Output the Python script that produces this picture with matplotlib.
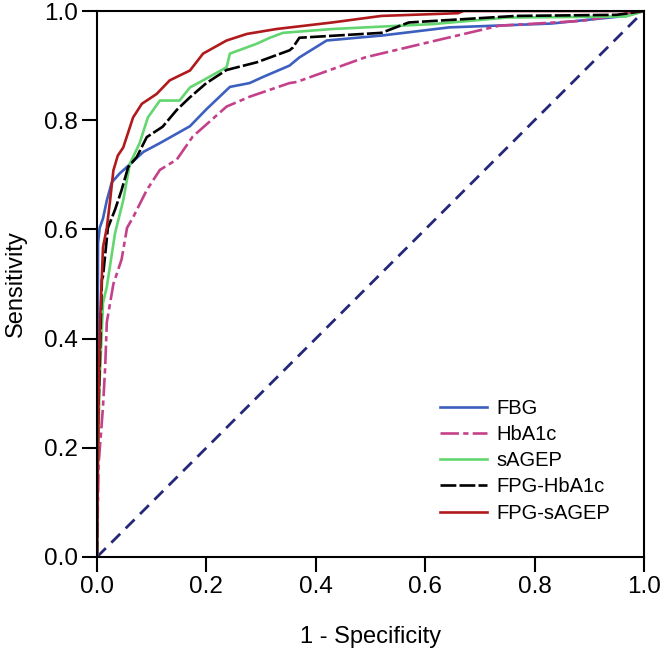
import matplotlib
matplotlib.use("Agg")
import matplotlib.pyplot as plt

plt.rcParams['font.family'] = ['Liberation Sans Narrow', 'Liberation Sans', 'DejaVu Sans']

# ROC curves (1 - specificity, sensitivity)
labels = ['FBG', 'HbA1c', 'sAGEP', 'FPG-HbA1c', 'FPG-sAGEP']

fbg_x = [0, 0.002, 0.005, 0.011, 0.018, 0.027, 0.042, 0.05, 0.085, 0.115, 0.17, 0.2, 0.243,
         0.279, 0.303, 0.352, 0.37, 0.42, 0.52, 0.644, 0.83, 0.967, 1.0]
fbg_y = [0, 0.575, 0.603, 0.62, 0.653, 0.686, 0.703, 0.71, 0.742, 0.758, 0.789, 0.82, 0.861,
         0.868, 0.879, 0.90, 0.915, 0.946, 0.955, 0.97, 0.977, 0.991, 1.0]

hba1c_x = [0, 0.003, 0.011, 0.015, 0.018, 0.03, 0.045, 0.055, 0.066, 0.091, 0.115, 0.146, 0.175,
           0.237, 0.279, 0.352, 0.365, 0.49, 0.62, 0.735, 0.887, 1.0]
hba1c_y = [0, 0.17, 0.275, 0.348, 0.43, 0.5, 0.545, 0.603, 0.622, 0.672, 0.709, 0.728, 0.77,
           0.825, 0.843, 0.868, 0.87, 0.915, 0.946, 0.973, 0.982, 1.0]

sagep_x = [0, 0.002, 0.005, 0.011, 0.018, 0.033, 0.048, 0.06, 0.078, 0.093, 0.115, 0.151, 0.17,
           0.194, 0.237, 0.243, 0.292, 0.316, 0.34, 0.43, 0.613, 0.75, 0.967, 1.0]
sagep_y = [0, 0.19, 0.325, 0.465, 0.495, 0.593, 0.653, 0.72, 0.758, 0.805, 0.836, 0.836, 0.86,
           0.873, 0.897, 0.922, 0.94, 0.951, 0.96, 0.967, 0.976, 0.988, 0.99, 1.0]

fpg_hba1c_x = [0, 0.002, 0.005, 0.009, 0.011, 0.02, 0.033, 0.045, 0.057, 0.073, 0.091, 0.12, 0.146,
               0.17, 0.2, 0.237, 0.292, 0.352, 0.358, 0.37, 0.52, 0.57, 0.766, 0.95, 1.0]
fpg_hba1c_y = [0, 0.25, 0.35, 0.508, 0.514, 0.603, 0.636, 0.672, 0.714, 0.733, 0.769, 0.788, 0.819,
               0.842, 0.868, 0.892, 0.906, 0.928, 0.933, 0.951, 0.96, 0.979, 0.991, 0.993, 1.0]

fpg_sagep_x = [0, 0.003, 0.006, 0.011, 0.018, 0.024, 0.03, 0.038, 0.048, 0.066, 0.082, 0.109, 0.133,
               0.17, 0.194, 0.237, 0.274, 0.328, 0.43, 0.52, 0.66, 0.67, 1.0]
fpg_sagep_y = [0, 0.3, 0.44, 0.567, 0.603, 0.653, 0.708, 0.735, 0.75, 0.805, 0.83, 0.848, 0.873,
               0.891, 0.922, 0.946, 0.958, 0.967, 0.979, 0.991, 0.996, 1.0, 1.0]

ref_x = [0, 1]
ref_y = [0, 1]

fig = plt.figure(figsize=(6.66, 6.63), dpi=100)
ax = fig.add_axes([0.1456, 0.1599, 0.8214, 0.8235])

ax.plot(ref_x, ref_y, color='#25287a', lw=2, dashes=(4.5, 2.8))
ax.plot(fbg_x, fbg_y, color='#3c5fc0', lw=1.9, label=labels[0])
ax.plot(hba1c_x, hba1c_y, color='#c4418a', lw=1.9, dashes=(7, 1.6, 2, 1.6), label=labels[1])
ax.plot(sagep_x, sagep_y, color='#63d670', lw=1.9, label=labels[2])
ax.plot(fpg_hba1c_x, fpg_hba1c_y, color='black', lw=1.9, dashes=(6, 1.2), label=labels[3])
ax.plot(fpg_sagep_x, fpg_sagep_y, color='#b01a1c', lw=1.9, label=labels[4])

ax.set_xlim(0, 1)
ax.set_ylim(0, 1)
ticks = [0.0, 0.2, 0.4, 0.6, 0.8, 1.0]
ax.set_xticks(ticks)
ax.set_yticks(ticks)
ax.set_xticklabels([f"{t:.1f}" for t in ticks])
ax.set_yticklabels([f"{t:.1f}" for t in ticks])
ax.tick_params(direction='out', length=11, width=1.5, labelsize=17.5, pad=3)
for s in ax.spines.values():
    s.set_linewidth(1.5)

ax.set_xlabel('1 - Specificity', fontsize=17, labelpad=20)
ax.set_ylabel('Sensitivity', fontsize=17, labelpad=12)

ax.legend(loc='upper left', bbox_to_anchor=(0.627, 0.29), frameon=False, fontsize=14.5,
          handlelength=2.35, handletextpad=0.45, labelspacing=0.36, borderpad=0, borderaxespad=0)

fig.savefig('out.png', dpi=100)
